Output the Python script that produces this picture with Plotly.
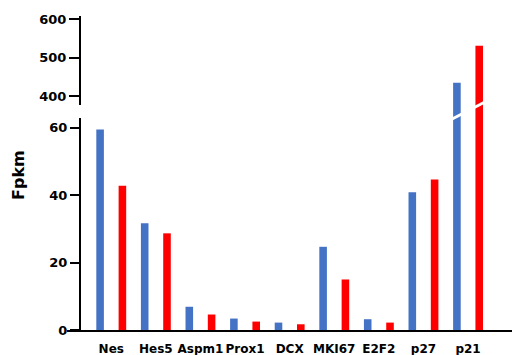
import plotly.graph_objects as go

genes = ["Nes", "Hes5", "Aspm1", "Prox1", "DCX", "MKI67", "E2F2", "p27", "p21"]
blue_vals = [59.5, 31.7, 6.9, 3.4, 2.2, 24.7, 3.2, 40.9, 434.5]
red_vals = [42.8, 28.7, 4.6, 2.5, 1.7, 15.0, 2.2, 44.7, 530.6]
lower_ticks = [0, 20, 40, 60]
upper_ticks = [400, 500, 600]

BLUE = "#4472C4"
RED = "#FF0000"
FONT = "DejaVu Sans"

fig = go.Figure()
for xa, ya in [("x", "y"), ("x2", "y2")]:
    fig.add_bar(x=genes, y=blue_vals, name="Group 1", marker_color=BLUE,
                marker_line_width=0, xaxis=xa, yaxis=ya, showlegend=False)
    fig.add_bar(x=genes, y=red_vals, name="Group 2", marker_color=RED,
                marker_line_width=0, xaxis=xa, yaxis=ya, showlegend=False)

W, H = 512, 355
ml, mr, mt, mb = 67, 0, 16, 25
pw = W - ml - mr
ph = H - mt - mb
axis_px = 80
ypos = (axis_px - ml) / pw
split = (330 - 105) / ph
lower_top = (330 - 118) / ph

ytickfont = dict(family=FONT, size=13, color="black", weight="bold")
xtickfont = dict(family=FONT, size=12, color="black", weight="bold")

fig.update_layout(
    width=W, height=H,
    margin=dict(l=ml, r=mr, t=mt, b=mb, autoexpand=False),
    barmode="group", bargap=0, bargroupgap=0.66,
    plot_bgcolor="white", paper_bgcolor="white",
    showlegend=False,
    xaxis=dict(domain=[0, 1], anchor="y", type="category",
               range=[-0.992, 8.985], showline=True, linecolor="black",
               linewidth=2, ticks="outside", ticklen=7, tickangle=0,
               tickcolor="rgba(0,0,0,0)", tickfont=xtickfont,
               showgrid=False, zeroline=False, automargin=False),
    xaxis2=dict(matches="x", anchor="y2", visible=False, automargin=False),
    yaxis=dict(domain=[0, split], range=[0, 66.8], anchor="free",
               position=ypos, showline=False, ticks="outside", ticklen=10,
               tickwidth=2, tickcolor="black", tickvals=lower_ticks,
               tickfont=ytickfont, showgrid=False, zeroline=False,
               automargin=False),
    yaxis2=dict(domain=[split, 1], range=[376.6, 607.8], anchor="free",
                position=ypos, showline=True, linecolor="black", linewidth=2,
                ticks="outside", ticklen=10, tickwidth=2, tickcolor="black",
                tickvals=upper_ticks, tickfont=ytickfont, showgrid=False,
                zeroline=False, automargin=False),
    shapes=[
        # lower y-axis line (with break gap above)
        dict(type="line", xref="paper", yref="paper", x0=ypos, x1=ypos,
             y0=0, y1=lower_top, line=dict(color="black", width=2)),
        # white break slash across p21 bars
        dict(type="line", xref="x", yref="paper", x0=7.6, x1=8.42,
             y0=(330 - 120) / ph, y1=(330 - 101) / ph,
             line=dict(color="white", width=3)),
    ],
    annotations=[
        dict(text="Fpkm", xref="paper", yref="paper",
             x=(18 - ml) / pw, y=(330 - 175) / ph, textangle=-90,
             showarrow=False, xanchor="center", yanchor="middle",
             font=dict(family=FONT, size=16, color="black", weight="bold")),
    ],
)

fig.write_html("out.html", config={"displayModeBar": False},
               post_script="document.body.style.margin='0';")
